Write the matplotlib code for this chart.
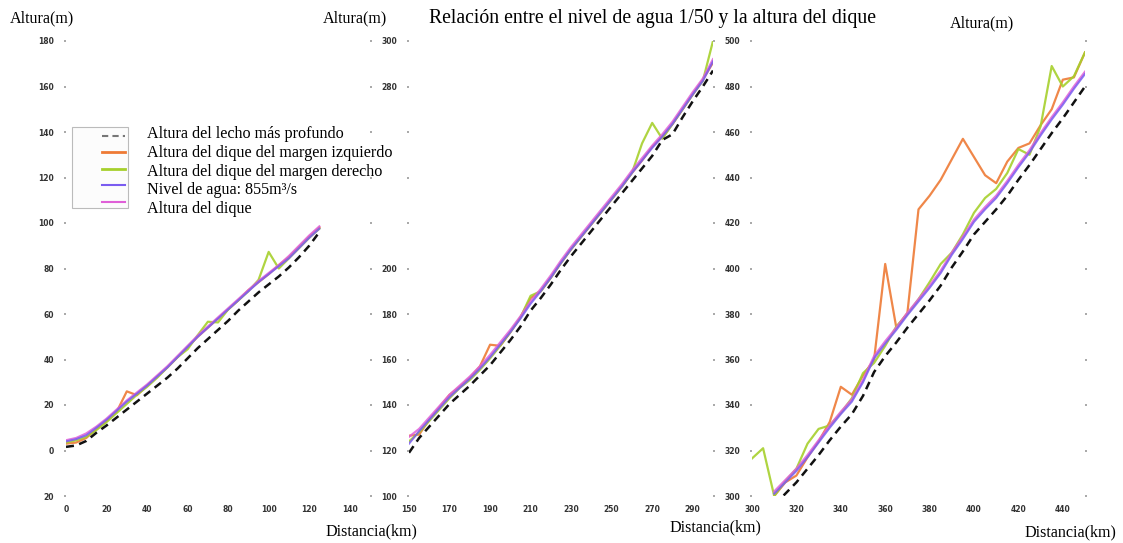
import numpy as np
import matplotlib
matplotlib.use("Agg")
import matplotlib.pyplot as plt
from matplotlib.patches import Rectangle
from matplotlib.lines import Line2D

nan = np.nan

# ---------------- data ----------------
# Panel 1 (0-125 km)
km1 = [0, 5, 10, 15, 20, 25, 30, 35, 40, 45, 50, 55, 60, 65, 70, 75, 80, 85, 90, 95, 100, 105, 110, 115, 120, 125]
bed1 = [1.6, 2.2, 4.2, 7.8, 11, 14.5, 18, 21.5, 25, 28.5, 32, 36, 40.5, 45, 49, 53, 57, 61.5, 65.5, 69.5, 73, 76.5, 80.5, 85, 90, 96]
left1 = [3, 3.5, 5.5, 9.5, 13, 17, 26, 24.3, 28.5, 32.5, 36.5, 41, 45.5, 50, 54, 58, 62, 66, 70.5, 74, 77.5, 81.5, 85, 89.5, 94, 98]
right1 = [3.5, 4.5, 6, 9, 12.5, 16.5, 20.5, 24.5, 28, 32, 36.5, 41, 44.5, 50.7, 56.6, 56.3, 62, 66, 70, 75, 87.3, 80, 84.5, 89, 93.5, 97.5]
water1 = [4, 5, 6.7, 10, 13.5, 17.5, 21.5, 25, 28.5, 32.5, 36.5, 41, 45.5, 50, 54, 58, 62, 66, 70, 74, 77.5, 81, 84.5, 89, 93.5, 97.5]
dike1 = [4.5, 5.5, 7.5, 10.5, 14, 18, 22, 25.5, 29, 33, 37, 41.5, 46, 50.5, 54.5, 58.5, 62.5, 66.5, 70.5, 74.5, 78, 81.5, 85.5, 90, 94.5, 98.5]

# Panel 2 (150-300 km)
km2 = [150, 155, 160, 165, 170, 175, 180, 185, 190, 195, 200, 205, 210, 215, 220, 225, 230, 235, 240, 245, 250, 255, 260, 265, 270, 275, 280, 285, 290, 295, 300]
bed2 = [119, 125.5, 130.5, 135.5, 140.5, 144.5, 148.5, 153, 157.5, 163, 168.5, 174.5, 181.5, 187, 193, 199.5, 205.5, 211, 216.5, 222, 227.5, 233, 238.5, 244, 249.5, 256.5, 259, 266.5, 273.5, 280, 287]
left2 = [126.5, 127, 133.5, 139, 144.5, 148, 152, 157, 166.5, 166, 172, 178.5, 187, 190, 196, 202.5, 208.5, 214, 219.5, 225, 230.5, 236, 242, 247.5, 253.5, 258, 263.5, 270, 276.5, 283, 290.5]
right2 = [124, 128, 133, 138, 143, 147.5, 151, 155.5, 160.5, 166, 172, 178.5, 188, 190, 196, 202.5, 208.5, 214, 219.5, 225, 230.5, 236, 242, 255, 264, 257, 263.5, 270, 276.5, 282.5, 300]
water2 = [123, 128.5, 133.5, 138.5, 143.5, 147.5, 151.5, 156, 161, 166.5, 172, 178, 184.5, 190, 196, 202.5, 208.5, 214, 219.5, 225, 230.5, 236, 242, 247.5, 253, 258, 263.5, 270, 276.5, 282.5, 291]
dike2 = [126, 129.5, 134.5, 139.5, 144.5, 148.5, 152.5, 157, 162, 167.5, 173, 179, 185.5, 191, 197, 203.5, 209.5, 215, 220.5, 226, 231.5, 237, 243, 248.5, 254, 259, 264.5, 271, 277.5, 283.5, 292]

# Panel 3 (300-450 km)
km3 = [300, 305, 310, 315, 320, 325, 330, 335, 340, 345, 350, 355, 360, 365, 370, 375, 380, 385, 390, 395, 400, 405, 410, 415, 420, 425, 430, 435, 440, 445, 450]
bed3 = [nan, nan, 296, 301, 306, 312, 318, 324.5, 330.5, 336, 344, 354.5, 361.5, 367.5, 374, 380, 386, 392.5, 400.5, 407.5, 415, 420.5, 426, 432, 439, 445.5, 452.5, 459.5, 466, 473, 480]
left3 = [nan, nan, 300, 306, 309, 317, 324, 332.5, 348, 344.5, 353, 360, 402, 374, 380.5, 426, 432, 439, 448, 457, 449, 441, 437.5, 447, 453, 455, 463, 470, 483, 484, 495]
right3 = [316.5, 321, 300, 306.5, 312, 323, 329.5, 331, 336.5, 343, 354, 358.5, 366, 374.5, 380, 386.5, 394, 402, 407, 415, 424.5, 431, 435, 442, 452.5, 450, 462.5, 489, 480, 484.5, 495]
water3 = [nan, nan, 301, 306, 311, 317, 323.5, 330, 336, 341.5, 350, 360.5, 367, 373, 379.5, 385.5, 391.5, 398, 406, 413, 420.5, 426, 431, 437.5, 444.5, 451, 458.5, 465.5, 472, 479, 485.5]
dike3 = [nan, nan, 302, 307, 312, 318, 324.5, 331, 337, 342.5, 351, 361.5, 368, 374, 380.5, 386.5, 392.5, 399, 407, 414, 421.5, 427, 432, 438.5, 445.5, 452, 459.5, 466.5, 473, 480, 486.5]

series_labels = ["Altura del lecho más profundo",
                 "Altura del dique del margen izquierdo",
                 "Altura del dique del margen derecho",
                 "Nivel de agua: 855m³/s",
                 "Altura del dique"]

title = "Relación entre el nivel de agua 1/50 y la altura del dique"

xlims = [(0, 150), (150, 300), (300, 450)]
ylims = [(-20, 180), (100, 300), (300, 500)]
xticks = [list(range(0, 141, 20)), list(range(150, 291, 20)), list(range(300, 441, 20))]
yticks = [list(range(-20, 181, 20)), list(range(100, 301, 20)), list(range(300, 501, 20))]
ytick_labels = [["20", "0", "20", "40", "60", "80", "100", "120", "140", "160", "180"],
                ["100", "120", "140", "160", "180", "200", "", "", "", "280", "300"],
                ["300", "320", "340", "360", "380", "400", "420", "440", "460", "480", "500"]]

# ---------------- styling ----------------
C_BED = "#111111"
C_LEFT = "#ee7a35"
C_RIGHT = "#a6d02c"
C_WATER = "#7a5cf0"
C_DIKE = "#e060d8"
SERIF = ["Liberation Serif", "DejaVu Serif"]

W, H = 1123, 543
fig = plt.figure(figsize=(W / 100, H / 100), dpi=100)
fig.patch.set_facecolor("white")

def fx(px):
    return px / W

def fy(py):
    return 1 - py / H

boxes = [(66, 370), (409, 713), (752, 1085)]
top_px, bot_px = 41, 496

data = [(km1, bed1, left1, right1, water1, dike1),
        (km2, bed2, left2, right2, water2, dike2),
        (km3, bed3, left3, right3, water3, dike3)]

for i, (x0, x1) in enumerate(boxes):
    ax = fig.add_axes([fx(x0), fy(bot_px), (x1 - x0) / W, (bot_px - top_px) / H])
    km, bed, left, right, water, dike = data[i]
    ax.plot(km, left, color=C_LEFT, lw=1.6, alpha=0.9)
    ax.plot(km, right, color=C_RIGHT, lw=1.6, alpha=0.9)
    ax.plot(km, dike, color=C_DIKE, lw=1.6, alpha=0.85)
    ax.plot(km, water, color=C_WATER, lw=1.5, alpha=0.85)
    ax.plot(km, bed, color=C_BED, lw=1.8, dashes=(3.2, 2.2))
    ax.set_xlim(*xlims[i])
    ax.set_ylim(*ylims[i])
    ax.set_xticks(xticks[i])
    ax.set_yticks(yticks[i])
    ax.set_yticklabels(ytick_labels[i])
    for s in ax.spines.values():
        s.set_visible(False)
    ax.tick_params(axis="y", left=True, right=True, length=1.5, width=1.2,
                   color="#999999", pad=7, labelsize=5.5, labelcolor="#333333")
    ax.tick_params(axis="x", bottom=False, length=0, pad=6.5, labelsize=5.5,
                   labelcolor="#333333")
    for lab in ax.get_xticklabels() + ax.get_yticklabels():
        lab.set_fontweight("bold")

# axis titles
fs_ax = 11.6
fig.text(fx(42), fy(18), "Altura(m)", family=SERIF, fontsize=fs_ax, ha="center", va="center")
fig.text(fx(355), fy(18), "Altura(m)", family=SERIF, fontsize=fs_ax, ha="center", va="center")
fig.text(fx(982), fy(23), "Altura(m)", family=SERIF, fontsize=fs_ax, ha="center", va="center")
fig.text(fx(371), fy(531), "Distancia(km)", family=SERIF, fontsize=fs_ax, ha="center", va="center")
fig.text(fx(715), fy(527), "Distancia(km)", family=SERIF, fontsize=fs_ax, ha="center", va="center")
fig.text(fx(1070), fy(532), "Distancia(km)", family=SERIF, fontsize=fs_ax, ha="center", va="center")
fig.text(fx(652), fy(18), title, family=SERIF, fontsize=14.2, ha="center", va="center")

# legend (box with handles, labels beside it)
fig.patches.append(Rectangle((fx(72), fy(208)), (128 - 72) / W, (208 - 127) / H,
                             transform=fig.transFigure, facecolor="#fcfcfc",
                             edgecolor="#bbbbbb", lw=0.8))
handle_styles = [dict(color="#777777", lw=1.5, dashes=(3, 2)),
                 dict(color=C_LEFT, lw=2),
                 dict(color=C_RIGHT, lw=2),
                 dict(color=C_WATER, lw=1.5),
                 dict(color=C_DIKE, lw=1.5)]
handle_y = [136, 152, 169, 185, 202]
text_y = [134, 153, 172, 190, 209]
for hs, hy, ty, lab in zip(handle_styles, handle_y, text_y, series_labels):
    fig.lines.append(Line2D([fx(102), fx(125)], [fy(hy), fy(hy)],
                            transform=fig.transFigure, **hs))
    fig.text(fx(147), fy(ty), lab, family=SERIF, fontsize=11.6, ha="left", va="center")

fig.savefig("out.png", dpi=100)
